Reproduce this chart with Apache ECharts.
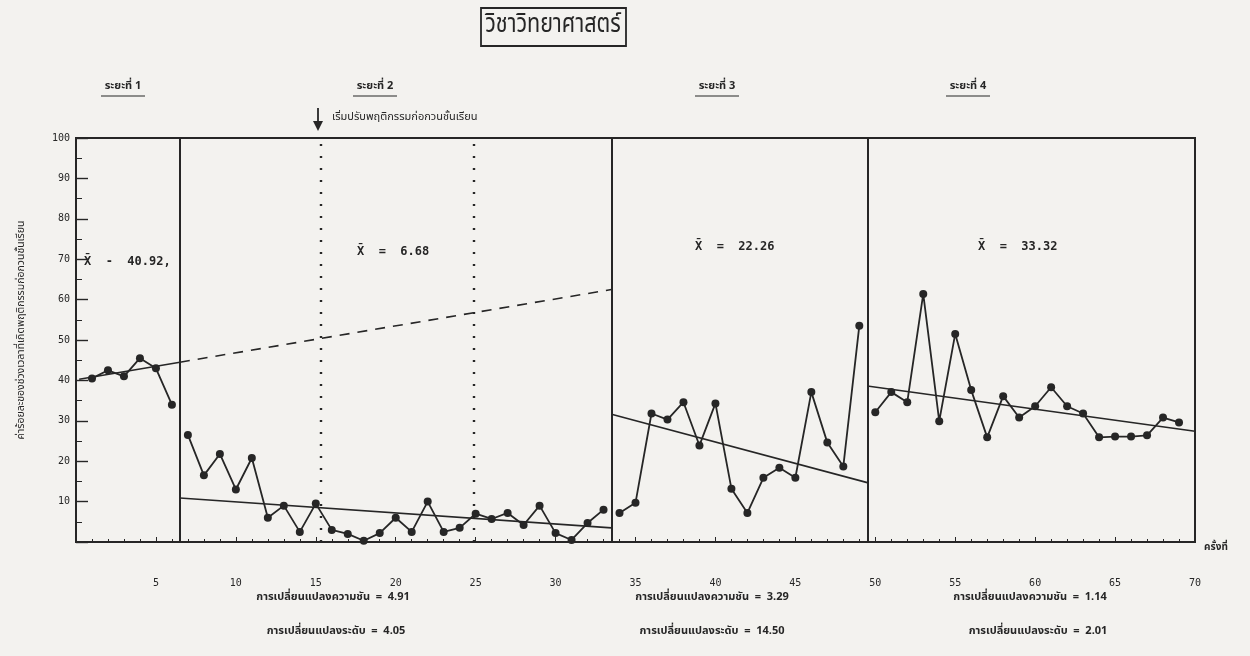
<!DOCTYPE html>
<html>
<head>
<meta charset="utf-8">
<script src="https://cdn.jsdelivr.net/npm/echarts@6/dist/echarts.min.js"></script>
<style>
html,body{margin:0;padding:0;background:#f3f2ef;}
#chart{width:1250px;height:656px;}
</style>
</head>
<body>
<div id="chart"></div>
<script>
// ---- data ----
const phase1Sessions = [1, 2, 3, 4, 5, 6];
const phase1Values = [40.5, 42.5, 41, 45.5, 43, 34];
const phase2Sessions = [7, 8, 9, 10, 11, 12, 13, 14, 15, 16, 17, 18, 19, 20, 21, 22, 23, 24, 25, 26, 27, 28, 29, 30, 31, 32, 33];
const phase2Values = [26.5, 16.5, 21.8, 13, 20.8, 6, 9, 2.5, 9.5, 3, 2, 0.3, 2.2, 6, 2.5, 10, 2.5, 3.5, 7, 5.7, 7.2, 4.2, 9, 2.2, 0.5, 4.7, 8];
const phase3Sessions = [34, 35, 36, 37, 38, 39, 40, 41, 42, 43, 44, 45, 46, 47, 48, 49];
const phase3Values = [7.2, 9.7, 31.8, 30.3, 34.6, 23.9, 34.3, 13.2, 7.2, 15.9, 18.4, 15.9, 37.1, 24.6, 18.7, 53.5];
const phase4Sessions = [50, 51, 52, 53, 54, 55, 56, 57, 58, 59, 60, 61, 62, 63, 64, 65, 66, 67, 68, 69];
const phase4Values = [32.1, 37.1, 34.6, 61.4, 29.9, 51.5, 37.6, 25.9, 36.1, 30.8, 33.6, 38.3, 33.6, 31.8, 25.9, 26.1, 26.1, 26.4, 30.8, 29.6];

// trend lines: [start session, start value, end session, end value]
const trend1 = [0.2, 40.3, 6.5, 44.5];
const trend1Projection = [6.5, 44.5, 33.5, 62.5];
const trend2 = [6.5, 10.9, 33.5, 3.5];
const trend3 = [33.5, 31.6, 49.5, 14.7];
const trend4 = [49.5, 38.6, 70, 27.4];

const phaseBoundaries = [6.5, 33.5, 49.5];
const dottedMarkers = [15.3, 24.9];

const xTickLabels = [5, 10, 15, 20, 25, 30, 35, 40, 45, 50, 55, 60, 65, 70];
const yTickLabels = [10, 20, 30, 40, 50, 60, 70, 80, 90, 100];

const titleText = 'วิชาวิทยาศาสตร์';
const phaseNames = ['ระยะที่ 1', 'ระยะที่ 2', 'ระยะที่ 3', 'ระยะที่ 4'];
const meanLabels = ['X̄  -  40.92,', 'X̄  =  6.68', 'X̄  =  22.26', 'X̄  =  33.32'];
const slopeLabels = ['การเปลี่ยนแปลงความชัน  =  4.91', 'การเปลี่ยนแปลงความชัน  =  3.29', 'การเปลี่ยนแปลงความชัน  =  1.14'];
const levelLabels = ['การเปลี่ยนแปลงระดับ  =  4.05', 'การเปลี่ยนแปลงระดับ  =  14.50', 'การเปลี่ยนแปลงระดับ  =  2.01'];
const arrowText = 'เริ่มปรับพฤติกรรมก่อกวนชั้นเรียน';
const yAxisName = 'ค่าร้อยละของช่วงเวลาที่เกิดพฤติกรรมก่อกวนชั้นเรียน';
const xAxisName = 'ครั้งที่';

// ---- chart ----
const INK = '#262626';
const thaiFont = '"Noto Sans Thai", "Noto Sans", "DejaVu Sans", sans-serif';
const monoFont = '"DejaVu Sans Mono", "Liberation Mono", monospace';

const chart = echarts.init(document.getElementById('chart'));

function pts(s, v) { return s.map((x, i) => [x, v[i]]); }
function seg(t) { return [[t[0], t[1]], [t[2], t[3]]]; }

function dataSeries(s, v) {
  return {
    type: 'line', data: pts(s, v), symbol: 'circle', symbolSize: 8,
    itemStyle: { color: INK }, lineStyle: { color: INK, width: 1.8 },
    z: 5, silent: true, animation: false
  };
}
function trendSeries(t, dashed) {
  return {
    type: 'line', data: seg(t), symbol: 'none',
    lineStyle: { color: INK, width: 1.6, type: dashed ? [10, 8] : 'solid' },
    z: 4, silent: true, animation: false
  };
}

const series = [
  dataSeries(phase1Sessions, phase1Values),
  dataSeries(phase2Sessions, phase2Values),
  dataSeries(phase3Sessions, phase3Values),
  dataSeries(phase4Sessions, phase4Values),
  trendSeries(trend1, false),
  trendSeries(trend1Projection, true),
  trendSeries(trend2, false),
  trendSeries(trend3, false),
  trendSeries(trend4, false),
  {
    type: 'line', data: [], silent: true, animation: false,
    markLine: {
      symbol: 'none', silent: true, label: { show: false },
      data: phaseBoundaries.map(x => ({ xAxis: x, lineStyle: { color: INK, width: 2, type: 'solid' } }))
        .concat(dottedMarkers.map(x => ({ xAxis: x, lineStyle: { color: INK, width: 2.4, type: [2, 10] } })))
    }
  }
];

const graphic = [
  { type: 'rect', shape: { x: 481, y: 8, width: 145, height: 38 }, style: { fill: 'none', stroke: INK, lineWidth: 1.8 } },
  { type: 'text', x: 553, y: 27, scaleX: 0.8, style: { text: titleText, font: '27px ' + thaiFont, fill: INK, textAlign: 'center', textVerticalAlign: 'middle' } },
];
const phaseLabelX = [123, 375, 717, 968];
phaseNames.forEach((n, i) => {
  graphic.push({ type: 'text', x: phaseLabelX[i], y: 87, style: { text: n, font: 'bold 11px ' + thaiFont, fill: INK, textAlign: 'center', textVerticalAlign: 'middle' } });
  graphic.push({ type: 'line', shape: { x1: phaseLabelX[i] - 22, y1: 96, x2: phaseLabelX[i] + 22, y2: 96 }, style: { stroke: INK, lineWidth: 1.2 } });
});
// arrow
graphic.push({ type: 'line', shape: { x1: 318, y1: 108, x2: 318, y2: 128 }, style: { stroke: INK, lineWidth: 1.8 } });
graphic.push({ type: 'polygon', shape: { points: [[313, 121], [323, 121], [318, 131]] }, style: { fill: INK } });
graphic.push({ type: 'text', x: 332, y: 118, style: { text: arrowText, font: '11px ' + thaiFont, fill: INK, textVerticalAlign: 'middle' } });
// means
const meanPos = [[84, 262], [357, 252], [695, 247], [978, 247]];
meanLabels.forEach((m, i) => {
  graphic.push({ type: 'text', x: meanPos[i][0], y: meanPos[i][1], style: { text: m, font: 'bold 12px ' + monoFont, fill: INK, textVerticalAlign: 'middle' } });
});
// bottom change labels
const slopePos = [[333, 598], [712, 598], [1030, 598]];
const levelPos = [[336, 632], [712, 632], [1038, 632]];
slopeLabels.forEach((t, i) => {
  graphic.push({ type: 'text', x: slopePos[i][0], y: slopePos[i][1], style: { text: t, font: 'bold 11px ' + thaiFont, fill: INK, textAlign: 'center', textVerticalAlign: 'middle' } });
});
levelLabels.forEach((t, i) => {
  graphic.push({ type: 'text', x: levelPos[i][0], y: levelPos[i][1], style: { text: t, font: 'bold 11px ' + thaiFont, fill: INK, textAlign: 'center', textVerticalAlign: 'middle' } });
});
// axis names
graphic.push({ type: 'text', x: 22, y: 330, rotation: Math.PI / 2, style: { text: yAxisName, font: '10.5px ' + thaiFont, fill: INK, textAlign: 'center', textVerticalAlign: 'middle' } });
graphic.push({ type: 'text', x: 1216, y: 548, style: { text: xAxisName, font: 'bold 10px ' + thaiFont, fill: INK, textAlign: 'center', textVerticalAlign: 'middle' } });

chart.setOption({
  backgroundColor: '#f3f2ef',
  animation: false,
  grid: { left: 76, right: 55, top: 138, bottom: 114, show: true, borderColor: INK, borderWidth: 2, backgroundColor: 'transparent' },
  xAxis: {
    type: 'value', min: 0, max: 70, interval: 5,
    axisLine: { show: true, lineStyle: { color: INK, width: 2 } },
    axisTick: { show: true, inside: true, length: 5, lineStyle: { color: INK } },
    minorTick: { show: true, splitNumber: 5, length: 3, lineStyle: { color: INK } },
    splitLine: { show: false },
    axisLabel: {
      color: INK, fontFamily: monoFont, fontSize: 10, margin: 36,
      formatter: v => (xTickLabels.indexOf(v) >= 0 ? String(v) : '')
    }
  },
  yAxis: {
    type: 'value', min: 0, max: 100, interval: 10,
    axisLine: { show: true, lineStyle: { color: INK, width: 2 } },
    axisTick: { show: true, inside: true, length: 12, lineStyle: { color: INK, width: 1.4 } },
    minorTick: { show: true, splitNumber: 2, length: 6, lineStyle: { color: INK } },
    splitLine: { show: false },
    axisLabel: {
      color: INK, fontFamily: monoFont, fontSize: 10, margin: 6,
      formatter: v => (yTickLabels.indexOf(v) >= 0 ? String(v) : '')
    }
  },
  series: series,
  graphic: graphic
});
</script>
</body>
</html>
